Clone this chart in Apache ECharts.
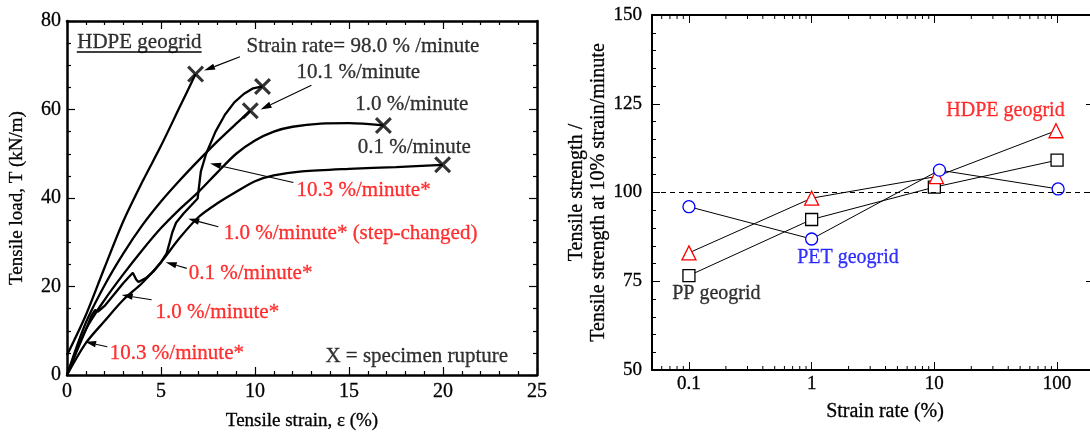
<!DOCTYPE html>
<html>
<head>
<meta charset="utf-8">
<script src="https://cdn.jsdelivr.net/npm/echarts@6/dist/echarts.min.js"></script>
<style>
html, body { margin: 0; padding: 0; background: #fff; }
#chart { width: 1090px; height: 436px; }
</style>
</head>
<body>
<div id="chart"></div>
<script>
// ---- Load–strain curves of HDPE geogrid: [strain %, load kN/m] ----
const curveRate98 = [[0,4.5],[1,13.5],[2,24.3],[3,34.8],[4,43.6],[5,51.8],[6,60.6],[6.84,68]];
const curveRate10 = [[0,0],[1,11.8],[2,20.3],[3,27.5],[4,33.8],[5,39.2],[6,44],[7,48.5],[8,52.8],[9,56.8],[9.75,59.7]];
const curveRate1 = [[0,0],[1,10.3],[2,17],[3,22.8],[4,28.2],[5,33.2],[6,37.5],[7,41.4],[8,45.8],[9,50],[10,53],[11,55],[12,56.1],[13.5,56.8],[15,56.9],[16.83,56.4]];
const curveRate01 = [[0,0],[1,7.2],[2,12.2],[3,17],[4,20.8],[5,25.5],[6,31],[7,35.7],[8,38.8],[9,41.4],[10,43.8],[11,45.1],[12.5,46],[15,46.6],[17.5,47],[19.98,47.5]];
const curveStepped = [[0,0],[0.5,5.2],[1,10.2],[1.3,13.4],[1.5,14.7],[1.65,14.3],[2,15.6],[2.5,18.2],[3,20.8],[3.5,23.1],[3.6,23.3],[3.68,21.6],[3.8,21],[4.2,21.9],[4.6,23.4],[5,25.5],[5.3,27.5],[5.45,29.8],[5.6,32.2],[5.8,34.4],[6.2,36.5],[6.6,38.3],[6.95,39.9],[7.02,42.5],[7.12,46],[7.4,50],[7.9,55],[8.4,58.8],[8.9,61.6],[9.4,63.5],[9.9,64.8],[10.4,65.2]];
// specimen rupture points
const rupturePoints = [[6.84,68.0],[9.75,59.7],[10.4,65.2],[16.83,56.4],[19.98,47.5]];

// ---- Strength ratio vs strain rate ----
const hdpeRate = [0.1, 1, 10.4, 98];
const hdpeRatio = [83.0, 98.4, 104.5, 117.4];
const ppRate = [0.1, 1, 10, 100];
const ppRatio = [76.6, 92.4, 101.5, 109.1];
const petRate = [0.1, 1, 11, 102];
const petRatio = [96.0, 86.9, 106.3, 101.0];

// tick values
const strainTicks = { min: 0, max: 25, interval: 5 };
const loadTicks = { min: 0, max: 80, interval: 20 };
const ratioTicks = { min: 50, max: 150, interval: 25 };
const rateRange = { min: 0.05, max: 200 };
const rateMinorTicks = [];
for (let d = -2; d <= 2; d++) {
  for (let k = 2; k <= 9; k++) {
    const v = +(k * Math.pow(10, d)).toPrecision(3);
    if (v > rateRange.min && v < rateRange.max) rateMinorTicks.push(v);
  }
}

const FONT = 'Liberation Serif, serif';
const RED = '#ff0000', BLUE = '#0000ff', BLACK = '#000000';

// annotation texts (left panel)
const leftNotesBlack = [
  { name: 'HDPE geogrid', value: [0.52, 75.1] },
  { name: 'Strain rate= 98.0 % /minute', value: [9.52, 74.3] },
  { name: '10.1 %/minute', value: [12.18, 68.3] },
  { name: '1.0 %/minute', value: [15.3, 61.2] },
  { name: '0.1 %/minute', value: [15.44, 51.4] },
  { name: 'X = specimen rupture', value: [13.72, 4.1] }
];
const leftNotesRed = [
  { name: '10.3 %/minute*', value: [12.18, 41.8] },
  { name: '1.0 %/minute* (step-changed)', value: [8.31, 32.0] },
  { name: '0.1 %/minute*', value: [6.45, 23.0] },
  { name: '1.0 %/minute*', value: [4.68, 14.1] },
  { name: '10.3 %/minute*', value: [2.25, 4.9] }
];
// leader arrows: tail (x, y) -> head (x, y)
const leftArrows = [
  [9.2, 71.9, 7.29, 68.8],
  [13.0, 65.5, 10.3, 60.0],
  [12.04, 43.5, 7.61, 47.8],
  [8.05, 33.5, 6.45, 35.3],
  [6.37, 24.1, 5.25, 25.5],
  [4.5, 17.0, 2.91, 18.1],
  [2.14, 6.4, 0.96, 7.5]
];
const titleUnderline = [[0.52, 73.0], [7.16, 73.0]];

function zip(xs, ys) { return xs.map((x, i) => [x, ys[i]]); }

function textStyle(color, size) {
  return { color: color, fontFamily: FONT, fontSize: size, textBorderColor: color, textBorderWidth: 0.3 };
}

function axisBase(extra) {
  return Object.assign({
    axisLine: { show: true, onZero: false, lineStyle: { color: BLACK, width: 2 } },
    axisTick: { show: true, inside: true, length: 8, lineStyle: { color: BLACK, width: 1.2 } },
    minorTick: { show: true, length: 4, lineStyle: { color: BLACK, width: 1.2 } },
    splitLine: { show: false },
    minorSplitLine: { show: false },
    axisLabel: textStyle(BLACK, 20),
    nameTextStyle: textStyle(BLACK, 19)
  }, extra);
}

function noteSeries(xi, yi, items, color, size) {
  return {
    type: 'scatter', xAxisIndex: xi, yAxisIndex: yi, data: items,
    symbolSize: 1, itemStyle: { color: 'rgba(0,0,0,0)' }, silent: true, z: 10,
    label: Object.assign({ show: true, position: 'right', distance: 0, formatter: '{b}' }, textStyle(color, size))
  };
}

function curveSeries(data, smooth) {
  return {
    type: 'line', xAxisIndex: 0, yAxisIndex: 0, data: data, showSymbol: false,
    smooth: smooth, lineStyle: { color: BLACK, width: 2.3 }, silent: true, z: 3
  };
}

function markerSeries(name, xs, ys, symbol, size, color) {
  return {
    type: 'line', name: name, xAxisIndex: 2, yAxisIndex: 2, data: zip(xs, ys),
    symbol: symbol, symbolSize: size, showSymbol: true,
    lineStyle: { color: BLACK, width: 1 },
    itemStyle: { color: '#ffffff', borderColor: color, borderWidth: 1.3 },
    silent: true, z: 4
  };
}

const X_PATH = 'path://M0,1.3L1.3,0L5,3.7L8.7,0L10,1.3L6.3,5L10,8.7L8.7,10L5,6.3L1.3,10L0,8.7L3.7,5Z';

const option = {
  animation: false,
  backgroundColor: '#ffffff',
  grid: [
    { left: 67, top: 21, width: 470, height: 354, outerBoundsMode: 'none' },
    { left: 652, top: 15, width: 442, height: 355, outerBoundsMode: 'none' }
  ],
  xAxis: [
    axisBase({ gridIndex: 0, type: 'value', position: 'bottom', min: strainTicks.min, max: strainTicks.max, interval: strainTicks.interval,
      axisLine: { show: true, onZero: false, lineStyle: { color: BLACK, width: 2.5 } },
      minorTick: { show: true, splitNumber: 5, length: 4, lineStyle: { color: BLACK, width: 1.2 } },
      axisLabel: Object.assign({ margin: 7 }, textStyle(BLACK, 20)),
      name: 'Tensile strain, ε (%)', nameLocation: 'middle', nameGap: 37 }),
    axisBase({ gridIndex: 0, type: 'value', position: 'top', min: strainTicks.min, max: strainTicks.max, interval: strainTicks.interval,
      axisLine: { show: true, onZero: false, lineStyle: { color: BLACK, width: 2.5 } },
      minorTick: { show: true, splitNumber: 5, length: 4, lineStyle: { color: BLACK, width: 1.2 } },
      axisLabel: { show: false } }),
    axisBase({ gridIndex: 1, type: 'log', logBase: 10, position: 'bottom', min: rateRange.min, max: rateRange.max,
      minorTick: { show: false },
      axisTick: { show: true, inside: true, length: 8, lineStyle: { color: BLACK, width: 1 } },
      axisLabel: Object.assign({ margin: 5,
        formatter: function (v) {
          const l = Math.log10(v);
          return Math.abs(l - Math.round(l)) < 1e-6 ? String(+(+v).toPrecision(3)) : '';
        } }, textStyle(BLACK, 19)),
      name: 'Strain rate (%)', nameLocation: 'middle', nameGap: 32,
      nameTextStyle: Object.assign({ padding: [0, 0, 0, 24] }, textStyle(BLACK, 20)) }),
    axisBase({ gridIndex: 1, type: 'log', logBase: 10, position: 'top', min: rateRange.min, max: rateRange.max,
      minorTick: { show: false },
      axisTick: { show: true, inside: true, length: 8, lineStyle: { color: BLACK, width: 1 } },
      axisLabel: { show: false } })
  ],
  yAxis: [
    axisBase({ gridIndex: 0, type: 'value', position: 'left', min: loadTicks.min, max: loadTicks.max, interval: loadTicks.interval,
      axisLine: { show: true, onZero: false, lineStyle: { color: BLACK, width: 2.5 } },
      minorTick: { show: true, splitNumber: 4, length: 4, lineStyle: { color: BLACK, width: 1.2 } },
      axisLabel: Object.assign({ margin: 6 }, textStyle(BLACK, 20)),
      name: 'Tensile load, T (kN/m)', nameLocation: 'middle', nameGap: 40 }),
    axisBase({ gridIndex: 0, type: 'value', position: 'right', min: loadTicks.min, max: loadTicks.max, interval: loadTicks.interval,
      axisLine: { show: true, onZero: false, lineStyle: { color: BLACK, width: 2.5 } },
      minorTick: { show: true, splitNumber: 4, length: 4, lineStyle: { color: BLACK, width: 1.2 } },
      axisLabel: { show: false } }),
    axisBase({ gridIndex: 1, type: 'value', position: 'left', min: ratioTicks.min, max: ratioTicks.max, interval: ratioTicks.interval,
      minorTick: { show: true, splitNumber: 5, length: 4, lineStyle: { color: BLACK, width: 1 } },
      axisTick: { show: true, inside: true, length: 8, lineStyle: { color: BLACK, width: 1 } },
      axisLabel: Object.assign({ margin: 10 }, textStyle(BLACK, 19)),
      name: 'Tensile strength /\nTensile strength at 10% strain/minute', nameLocation: 'middle', nameGap: 33,
      nameTextStyle: Object.assign({ lineHeight: 22 }, textStyle(BLACK, 20)) }),
    axisBase({ gridIndex: 1, type: 'value', position: 'right', min: ratioTicks.min, max: ratioTicks.max, interval: ratioTicks.interval,
      minorTick: { show: true, splitNumber: 5, length: 4, lineStyle: { color: BLACK, width: 1 } },
      axisTick: { show: true, inside: true, length: 8, lineStyle: { color: BLACK, width: 1 } },
      axisLabel: { show: false } })
  ],
  series: [
    // load–strain curves
    curveSeries(curveRate98, 0.3),
    curveSeries(curveRate10, 0.3),
    curveSeries(curveRate1, 0.3),
    curveSeries(curveRate01, 0.3),
    curveSeries(curveStepped, false),
    {
      type: 'scatter', xAxisIndex: 0, yAxisIndex: 0, data: rupturePoints,
      symbol: X_PATH, symbolSize: [17, 17], itemStyle: { color: BLACK }, silent: true, z: 5
    },
    {
      type: 'line', xAxisIndex: 0, yAxisIndex: 0, data: titleUnderline, showSymbol: false,
      lineStyle: { color: BLACK, width: 1.5 }, silent: true, z: 5
    },
    {
      type: 'custom', xAxisIndex: 0, yAxisIndex: 0, data: leftArrows, silent: true, clip: false, z: 6,
      encode: { x: [0, 2], y: [1, 3] },
      renderItem: function (params, api) {
        const a = api.coord([api.value(0), api.value(1)]);
        const b = api.coord([api.value(2), api.value(3)]);
        const dx = b[0] - a[0], dy = b[1] - a[1];
        const len = Math.sqrt(dx * dx + dy * dy) || 1;
        const ux = dx / len, uy = dy / len;
        const hl = 11, hw = 3.2;
        const bx = b[0] - ux * hl, by = b[1] - uy * hl;
        return {
          type: 'group',
          children: [
            { type: 'line', shape: { x1: a[0], y1: a[1], x2: bx, y2: by }, style: { stroke: BLACK, lineWidth: 1.1 } },
            { type: 'polygon', shape: { points: [[b[0], b[1]], [bx - uy * hw, by + ux * hw], [bx + uy * hw, by - ux * hw]] },
              style: { fill: BLACK } }
          ]
        };
      }
    },
    noteSeries(0, 0, leftNotesBlack, BLACK, 21),
    noteSeries(0, 0, leftNotesRed, RED, 21),

    // strength ratio vs strain rate
    Object.assign(markerSeries('PP geogrid', ppRate, ppRatio, 'rect', 12, BLACK), {
      markLine: {
        silent: true, symbol: ['none', 'none'], label: { show: false },
        lineStyle: { color: BLACK, width: 1, type: [5, 4] },
        data: [{ yAxis: 100 }]
      }
    }),
    markerSeries('HDPE geogrid', hdpeRate, hdpeRatio, 'triangle', 14, RED),
    markerSeries('PET geogrid', petRate, petRatio, 'circle', 12, BLUE),
    {
      type: 'custom', xAxisIndex: 2, yAxisIndex: 2, silent: true, clip: false, z: 2,
      data: rateMinorTicks.map(v => [v, ratioTicks.min]),
      encode: { x: 0, y: 1 },
      renderItem: function (params, api) {
        const v = api.value(0);
        const b = api.coord([v, ratioTicks.min]);
        const t = api.coord([v, ratioTicks.max]);
        return {
          type: 'group',
          children: [
            { type: 'line', shape: { x1: b[0], y1: b[1], x2: b[0], y2: b[1] - 4 }, style: { stroke: BLACK, lineWidth: 1 } },
            { type: 'line', shape: { x1: t[0], y1: t[1], x2: t[0], y2: t[1] + 4 }, style: { stroke: BLACK, lineWidth: 1 } }
          ]
        };
      }
    },
    noteSeries(2, 2, [{ name: 'HDPE geogrid', value: [12.4, 123] }], RED, 20),
    noteSeries(2, 2, [{ name: 'PET geogrid', value: [0.755, 81.6] }], BLUE, 20),
    noteSeries(2, 2, [{ name: 'PP geogrid', value: [0.0723, 71.4] }], BLACK, 20)
  ]
};

const chart = echarts.init(document.getElementById('chart'), null, { renderer: 'canvas' });
chart.setOption(option);
</script>
</body>
</html>
